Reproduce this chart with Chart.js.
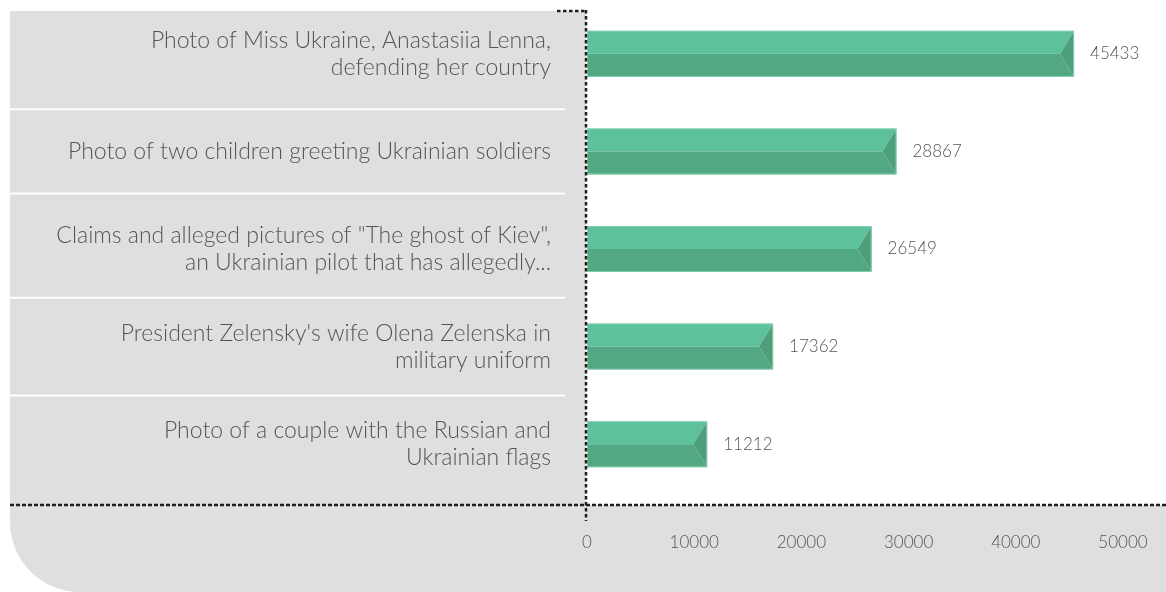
<!DOCTYPE html>
<html>
<head>
<meta charset="utf-8">
<script src="https://cdn.jsdelivr.net/npm/chart.js@4"></script>
<style>
  html, body { margin: 0; padding: 0; background: #fff; }
</style>
</head>
<body>
<canvas id="chart" width="1166" height="592"></canvas>
<script>
// Chart data
const categories = [
    ["Photo of Miss Ukraine, Anastasiia Lenna,", "defending her country"],
    ["Photo of two children greeting Ukrainian soldiers"],
    ['Claims and alleged pictures of "The ghost of Kiev",', "an Ukrainian pilot that has allegedly..."],
    ["President Zelensky's wife Olena Zelenska in", "military uniform"],
    ["Photo of a couple with the Russian and", "Ukrainian flags"]
];
const shares = [45433, 28867, 26549, 17362, 11212];
const xTicks = [0, 10000, 20000, 30000, 40000, 50000];

const FONT = "Lato";
const TEXT = "#555555";
const LABEL_LH = 27;

// grey panel behind the labels + separators
const panelPlugin = {
    id: "panel",
    beforeDraw(chart) {
        const { ctx, chartArea: a, width, height } = chart;
        const axisY = a.bottom + 12;
        const left = 10, top = 11, r = 70;
        ctx.save();
        ctx.fillStyle = "#dfdfdf";
        ctx.beginPath();
        ctx.moveTo(left, top);
        ctx.lineTo(a.left - 1, top);
        ctx.lineTo(a.left - 1, axisY);
        ctx.lineTo(width, axisY);
        ctx.lineTo(width, height);
        ctx.lineTo(left + r, height);
        ctx.arcTo(left, height, left, height - r, r);
        ctx.closePath();
        ctx.fill();

        // white lines between the label blocks
        const yScale = chart.scales.y;
        ctx.strokeStyle = "#ffffff";
        ctx.lineWidth = 2;
        for (let i = 0; i < categories.length - 1; i++) {
            const c1 = yScale.getPixelForTick(i);
            const c2 = yScale.getPixelForTick(i + 1);
            const y = (c1 + c2) / 2 + (categories[i].length - categories[i + 1].length) * LABEL_LH / 4;
            ctx.beginPath();
            ctx.moveTo(left, y);
            ctx.lineTo(a.left - 22, y);
            ctx.stroke();
        }
        ctx.restore();
    }
};

// bevelled bars + value labels
const barPlugin = {
    id: "bars3d",
    afterDatasetsDraw(chart) {
        const ctx = chart.ctx;
        const meta = chart.getDatasetMeta(0);
        ctx.save();
        meta.data.forEach((bar, i) => {
            const top = bar.y - bar.height / 2;
            const bot = bar.y + bar.height / 2;
            const mid = bar.y;
            const x0 = bar.base, x1 = bar.x, n = 14;

            ctx.fillStyle = "#5dc19b";
            ctx.beginPath();
            ctx.moveTo(x0, top); ctx.lineTo(x1, top); ctx.lineTo(x1 - n, mid); ctx.lineTo(x0, mid);
            ctx.closePath(); ctx.fill();

            ctx.fillStyle = "#52a883";
            ctx.beginPath();
            ctx.moveTo(x0, mid); ctx.lineTo(x1 - n, mid); ctx.lineTo(x1, bot); ctx.lineTo(x0, bot);
            ctx.closePath(); ctx.fill();

            ctx.fillStyle = "#4e9f7c";
            ctx.beginPath();
            ctx.moveTo(x1, top); ctx.lineTo(x1 - n, mid); ctx.lineTo(x1, bot);
            ctx.closePath(); ctx.fill();

            ctx.strokeStyle = "rgba(140,214,182,0.8)";
            ctx.lineWidth = 1;
            ctx.strokeRect(x0 + 0.5, top + 0.5, x1 - x0 - 1, bot - top - 1);

            ctx.fillStyle = TEXT;
            ctx.font = "300 17px " + FONT;
            ctx.textAlign = "left";
            ctx.textBaseline = "middle";
            ctx.fillText(String(shares[i]), x1 + 16, mid);
        });
        ctx.restore();
    }
};

// dotted axis lines
const dotsPlugin = {
    id: "dots",
    afterDraw(chart) {
        const { ctx, chartArea: a, width } = chart;
        const axisY = a.bottom + 12;
        const vx = a.left - 1;
        ctx.save();
        ctx.strokeStyle = "#1e1e1e";
        ctx.lineWidth = 2.5;
        ctx.setLineDash([4, 2]);
        ctx.beginPath();
        ctx.moveTo(10, axisY); ctx.lineTo(width, axisY);
        ctx.stroke();
        ctx.setLineDash([3.5, 2.5]);
        ctx.beginPath();
        ctx.moveTo(vx, 10); ctx.lineTo(vx, axisY + 16);
        ctx.stroke();
        ctx.beginPath();
        ctx.moveTo(557, 11); ctx.lineTo(vx, 11);
        ctx.stroke();
        ctx.restore();
    }
};

const chart = new Chart(document.getElementById("chart"), {
    type: "bar",
    data: {
        labels: categories,
        datasets: [{
            data: shares,
            backgroundColor: "rgba(0,0,0,0)",
            borderWidth: 0,
            barThickness: 46
        }]
    },
    options: {
        indexAxis: "y",
        responsive: false,
        animation: false,
        layout: { padding: { top: 5, right: 43, bottom: 0, left: 0 } },
        plugins: { legend: { display: false }, tooltip: { enabled: false } },
        scales: {
            y: {
                grid: { display: false, drawTicks: false },
                border: { display: false },
                ticks: {
                    color: TEXT,
                    font: { family: FONT, size: 23, weight: 300, lineHeight: LABEL_LH / 23 },
                    padding: 36,
                    autoSkip: false
                },
                afterFit(scale) {
                    scale.width = 587;
                    scale.paddingTop = 0;
                    scale.paddingBottom = 0;
                }
            },
            x: {
                min: 0,
                max: 50000,
                grid: { display: false, drawTicks: false },
                border: { display: false },
                ticks: {
                    color: TEXT,
                    font: { family: FONT, size: 17, weight: 300 },
                    padding: 39,
                    maxRotation: 0,
                    callback: v => String(v)
                },
                afterBuildTicks(scale) { scale.ticks = xTicks.map(v => ({ value: v })); },
                afterFit(scale) {
                    scale.height = 99;
                    scale.paddingLeft = 0;
                    scale.paddingRight = 0;
                }
            }
        }
    },
    plugins: [panelPlugin, barPlugin, dotsPlugin]
});
</script>
</body>
</html>
